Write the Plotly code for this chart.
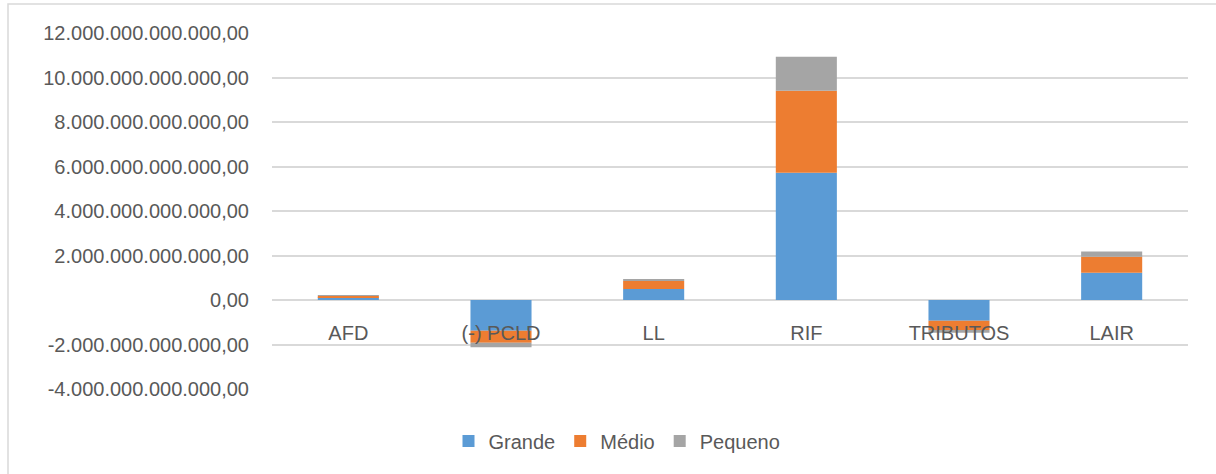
import plotly.graph_objects as go

categories = ["AFD", "(-) PCLD", "LL", "RIF", "TRIBUTOS", "LAIR"]
grande = [0.12e12, -1.38e12, 0.49e12, 5.72e12, -0.93e12, 1.22e12]
medio = [0.06e12, -0.54e12, 0.36e12, 3.69e12, -0.42e12, 0.72e12]
pequeno = [0.02e12, -0.20e12, 0.09e12, 1.52e12, -0.12e12, 0.24e12]
series_names = ["Grande", "Médio", "Pequeno"]
colors = ["#5B9BD5", "#ED7D31", "#A5A5A5"]
tick_vals = [-4e12, -2e12, 0, 2e12, 4e12, 6e12, 8e12, 10e12, 12e12]


def fmt(v):
    s = f"{abs(v):,.2f}".replace(",", "X").replace(".", ",").replace("X", ".")
    return ("-" if v < 0 else "") + s


tick_text = [fmt(v) for v in tick_vals]

fig = go.Figure()
for name, vals, col in zip(series_names, [grande, medio, pequeno], colors):
    fig.add_trace(go.Bar(x=categories, y=vals, name=name, marker_color=col,
                         marker_line_width=0))

W, H = 1216, 474
L, R, T, B = 272, 28, 33, 85
pw, ph = W - L - R, H - T - B

fig.update_layout(
    width=W, height=H,
    barmode="relative",
    bargap=0.6,
    margin=dict(l=L, r=R, t=T, b=B),
    plot_bgcolor="white", paper_bgcolor="white",
    font=dict(family="Liberation Sans, Arial, sans-serif", size=20, color="#595959"),
    showlegend=True,
    legend=dict(orientation="h", x=(617 - L) / pw, xanchor="center",
                y=(H - B - 441) / ph, yanchor="middle",
                font=dict(size=20, color="#595959"),
                itemwidth=30, traceorder="normal"),
    xaxis=dict(anchor="free", position=4 / 16, showline=False, ticks="",
               showgrid=False, zeroline=False, ticklabelstandoff=19,
               tickfont=dict(size=20, color="#595959")),
    yaxis=dict(range=[-4e12, 12e12], tickvals=tick_vals, ticktext=tick_text,
               showgrid=True, gridcolor="#d9d9d9", gridwidth=1.5,
               zeroline=True, zerolinecolor="#d9d9d9", zerolinewidth=1.5,
               showline=False, ticks="", ticklabelstandoff=22,
               tickfont=dict(size=20, color="#595959")),
    shapes=[dict(type="rect", xref="paper", yref="paper",
                 x0=(8 - L) / pw, x1=(W + 10 - L) / pw,
                 y0=(H - B - (H + 10)) / ph, y1=(H - B - 4) / ph,
                 line=dict(color="#d9d9d9", width=1.5), fillcolor="rgba(0,0,0,0)",
                 layer="below")],
)

fig.write_html("out.html")
